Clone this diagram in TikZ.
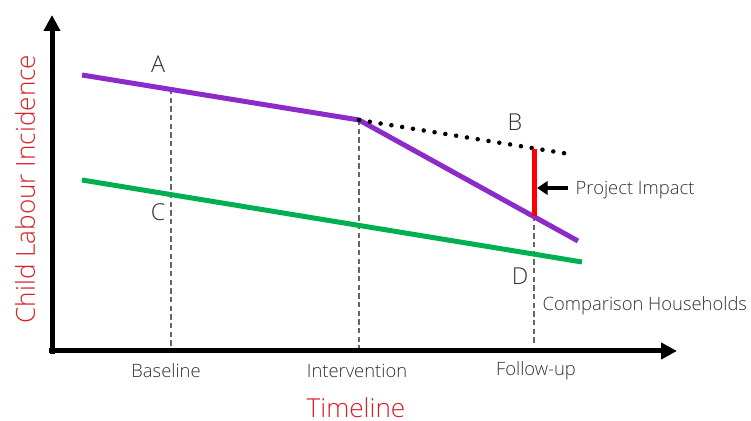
\documentclass[tikz,border=0pt]{standalone}
\usepackage{fontspec}
\setmainfont{Open Sans Light}
\usetikzlibrary{arrows.meta}
\begin{document}
\begin{tikzpicture}[x=0.75pt, y=0.75pt,
    axis/.style={line width=3.75pt, -{Triangle[length=12pt, width=12pt]}},
    trend/.style={line width=3.75pt},
    guide/.style={gray!80!black, line width=0.8pt, dash pattern=on 4pt off 2.5pt},
    ticklabel/.style={text=textgray, font=\fontsize{13.8}{16}\selectfont},
    pointlabel/.style={text=textgray, font=\fontsize{17.5}{20}\selectfont},
    axislabel/.style={text=labelred, inner sep=0pt, font=\fontsize{19.6}{22}\selectfont}]
    % Define colors
    \definecolor{purpleline}{RGB}{140,43,200}
    \definecolor{greenline}{RGB}{0,176,80}
    \definecolor{impactred}{RGB}{255,0,0}
    \definecolor{labelred}{RGB}{214,32,40}
    \definecolor{textgray}{RGB}{50,50,50}

    \useasboundingbox (0,0) rectangle (751,421);

    % Key points
    \coordinate (origin) at (52,70);
    \coordinate (ytip) at (52,406);
    \coordinate (xtip) at (677,70);
    \coordinate (start) at (82,346);
    \coordinate (kink) at (359,301);
    \coordinate (finish) at (578,180);
    \coordinate (cstart) at (82,241);
    \coordinate (cfinish) at (582,159);
    \coordinate (cfend) at (569,267);
    \coordinate (btop) at (534,272);
    \coordinate (dbot) at (534,205);
    \coordinate (atop) at (171,332);
    \coordinate (abot) at (171,70);
    \coordinate (ibot) at (359,70);
    \coordinate (fbot) at (534,76);

    % Dashed guides
    \draw[guide] (atop) -- (abot);
    \draw[guide] (kink) -- (ibot);
    \draw[guide] (dbot) -- (fbot);

    % Trend lines
    \draw[trend, greenline] (cstart) -- (cfinish);
    \draw[trend, purpleline] (start) -- (kink) -- (finish);
    \draw[line width=3.4pt, line cap=round, dash pattern=on 0pt off 8.2pt] (kink) -- (cfend);
    \draw[trend, impactred] (btop) -- (dbot);

    % Axes
    \draw[axis] ([yshift=-1.9pt]origin) -- (ytip);
    \draw[axis] ([xshift=-1.9pt]origin) -- (xtip);

    % Point labels
    \node[pointlabel] (A) at (158,357) {A};
    \node[pointlabel] (B) at (515,299) {B};
    \node[pointlabel] (C) at (158,209) {C};
    \node[pointlabel] (D) at (520,145) {D};

    % Annotations
    \node[ticklabel, anchor=west] (impact) at (571,231) {Project Impact};
    \coordinate (impactarrow) at (537,233);
    \draw[line width=3pt, -{Triangle[length=8pt, width=10pt]}] (impact.west) ++(-3,2) coordinate (impacttail) -- (impactarrow);
    \node[ticklabel, anchor=west] (comparison) at (538,115) {Comparison Households};

    % Timeline ticks
    \node[ticklabel] (baseline) at (166,50) {Baseline};
    \node[ticklabel] (intervention) at (357,50) {Intervention};
    \node[ticklabel] (followup) at (536,50) {Follow-up};

    % Axis titles
    \node[axislabel, anchor=base] (timeline) at (356,3.5) {Timeline};
    \node[axislabel, rotate=90, anchor=base] (incidence) at (35,232) {Child Labour Incidence};
\end{tikzpicture}
\end{document}
